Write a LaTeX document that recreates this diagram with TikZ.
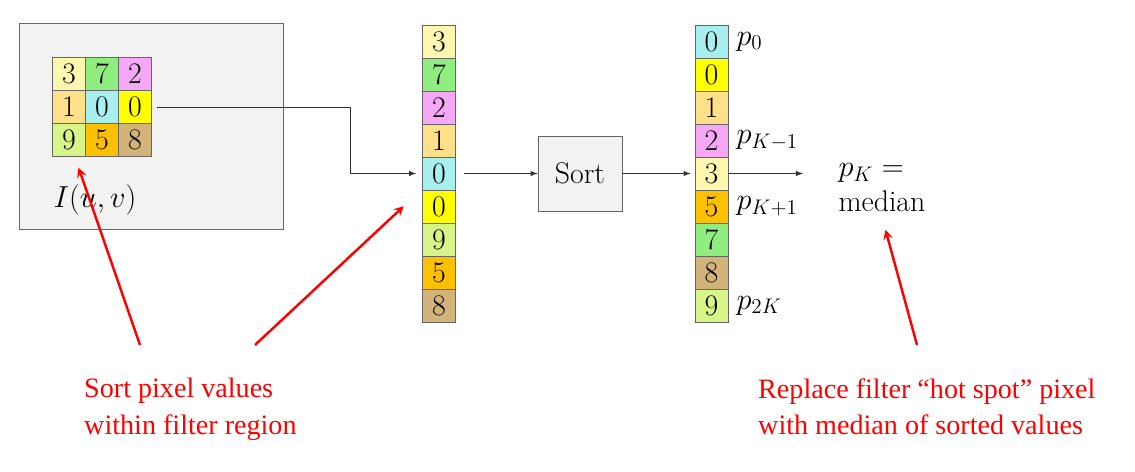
\documentclass[tikz,border=0pt]{standalone}
\usepackage{fontspec}
\newfontfamily\notefont{Liberation Serif}
\usepackage{tikz}
\usetikzlibrary{positioning}
\definecolor{cThree}{HTML}{FFF6B0}
\definecolor{cSeven}{HTML}{90EE80}
\definecolor{cTwo}{HTML}{F5A8F5}
\definecolor{cOne}{HTML}{FFE08A}
\definecolor{cZeroA}{HTML}{A8F0F0}
\definecolor{cZeroB}{HTML}{FFFF00}
\definecolor{cNine}{HTML}{D8F58A}
\definecolor{cFive}{HTML}{FFC000}
\definecolor{cEight}{HTML}{D2B47A}
\tikzset{
  cell/.style={draw=black!60, minimum width=33\pxu, minimum height=33\pxu, inner sep=0pt, font=\fontsize{17}{17}\selectfont},
  flow/.style={->, >=latex, black!80},
  note/.style={->, >=stealth, red, line width=1.4pt, shorten >=1pt},
  notetext/.style={red, align=left, anchor=north west, font=\notefont\fontsize{16}{21}\selectfont}
}
\newlength{\pxu}
\setlength{\pxu}{0.02cm}
\begin{document}
\begin{tikzpicture}[x=0.02cm, y=-0.02cm]
  \useasboundingbox (0,0) rectangle (1135,472);
  \node (img) at (151,126) [draw=black!60, fill=black!5, minimum width=264\pxu, minimum height=206\pxu] {};
  % 3x3 filter region
  \foreach \v/\c [count=\i from 0] in {3/cThree,7/cSeven,2/cTwo,1/cOne,0/cZeroA,0/cZeroB,9/cNine,5/cFive,8/cEight}{
    \pgfmathtruncatemacro{\col}{mod(\i,3)}
    \pgfmathtruncatemacro{\row}{div(\i,3)}
    \node (g\i) at (69+33*\col, 74+33*\row) [cell, fill=\c] {\v};
  }
  \node (I) at (95,200) {\fontsize{17}{17}\selectfont $I(u,v)$};
  % unsorted column
  \foreach \v/\c [count=\i from 0] in {3/cThree,7/cSeven,2/cTwo,1/cOne,0/cZeroA,0/cZeroB,9/cNine,5/cFive,8/cEight}
    \node (a\i) at (439,41.5+33*\i) [cell, fill=\c] {\v};
  % sorted column
  \foreach \v/\c [count=\i from 0] in {0/cZeroA,0/cZeroB,1/cOne,2/cTwo,3/cThree,5/cFive,7/cSeven,8/cEight,9/cNine}
    \node (b\i) at (711.5,41.5+33*\i) [cell, fill=\c] {\v};
  \node (sort) at (580,173.5) [draw=black!60, fill=black!5, minimum width=84\pxu, minimum height=75\pxu, font=\fontsize{17}{17}\selectfont] {Sort};
  \node[right=2\pxu of b0, font=\fontsize{17}{17}\selectfont] {$p_0$};
  \node[right=2\pxu of b3, font=\fontsize{17}{17}\selectfont] {$p_{K-1}$};
  \node[right=2\pxu of b5, font=\fontsize{17}{17}\selectfont] {$p_{K+1}$};
  \node[right=2\pxu of b8, font=\fontsize{17}{17}\selectfont] {$p_{2K}$};
  \node (med) at (882,188) [align=left, font=\fontsize{17}{20}\selectfont] {$p_K =$\\median};
  \coordinate (out) at (803,173.5);
  \draw[flow] (g5.east) ++(5,0) -| (350,173.5) -- ([xshift=-6\pxu]a4.west);
  \draw[flow] (a4.east) ++(8,0) -- (sort.west);
  \draw[flow] (sort.east) -- ([xshift=-4\pxu]b4.west);
  \draw[flow] (b4.east) -- (out);
  % notes
  \coordinate (n1) at (140,345);
  \coordinate (n2) at (255,345);
  \coordinate (n3) at (917,345);
  \draw[note] (n1) -- (78,166);
  \draw[note] (n2) -- (405,205);
  \draw[note] (n3) -- (885,228);
  \node (t1) at (78,372) [notetext] {Sort pixel values\\within filter region};
  \node (t2) at (752,372) [notetext] {Replace filter \textquotedblleft hot spot\textquotedblright\ pixel\\with median of sorted values};
\end{tikzpicture}
\end{document}
